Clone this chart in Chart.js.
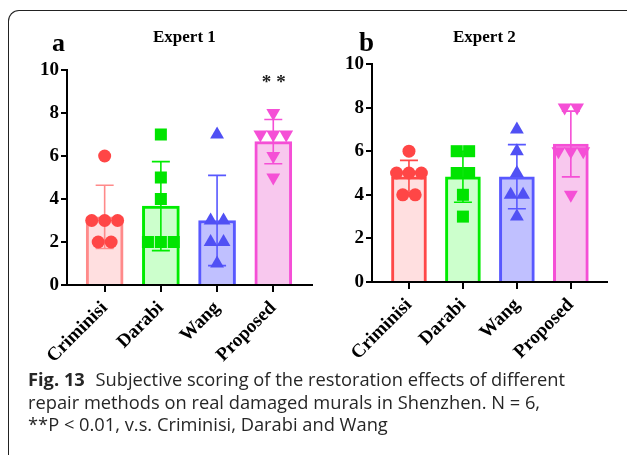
<!DOCTYPE html>
<html>
<head>
<meta charset="utf-8">
<script src="https://cdn.jsdelivr.net/npm/chart.js@4"></script>
<style>
  html, body { margin: 0; padding: 0; background: #fff; }
  body { width: 627px; height: 455px; position: relative; overflow: hidden; }
  .frame { position: absolute; left: 8px; top: 10px; width: 700px; height: 500px;
    border-top: 1.5px solid #222; border-left: 1.5px solid #222; border-top-left-radius: 11px; }
  .panel { position: absolute; top: 0; }
  .serif { position: absolute; font-family: "Liberation Serif", "Times New Roman", serif; font-weight: bold; line-height: 1; color: #000; white-space: nowrap; }
  .caption { position: absolute; left: 28px; top: 368px; width: 610px; font-family: "Open Sans", sans-serif;
    font-size: 18.3px; line-height: 22.5px; color: #262626; font-weight: 400; white-space: nowrap; }
  .caption b { font-weight: 700; margin-right: 6px; }
</style>
</head>
<body>
<div class="frame"></div>
<div class="panel" style="left:0;width:320px;height:370px"><canvas id="chart-a" width="320" height="370"></canvas></div>
<div class="panel" style="left:320px;width:307px;height:370px"><canvas id="chart-b" width="307" height="370"></canvas></div>
<div class="serif" style="left:52px;top:30px;font-size:26px">a</div>
<div class="serif" style="left:359px;top:29px;font-size:27px">b</div>
<div class="serif" style="left:153px;top:28px;font-size:17px">Expert 1</div>
<div class="serif" style="left:453px;top:28px;font-size:17px">Expert 2</div>
<div class="caption"><b>Fig. 13</b> Subjective scoring of the restoration effects of different<br>repair methods on real damaged murals in Shenzhen. N = 6,<br>**P &lt; 0.01, v.s. Criminisi, Darabi and Wang</div>
<script>
const categories = ["Criminisi", "Darabi", "Wang", "Proposed"];
const yTicks = [0, 2, 4, 6, 8, 10];

const expert1Means = [3.17, 3.67, 3.0, 6.67];
const expert1Sd = [1.47, 2.07, 2.1, 1.03];
const expert1Points = [
  [6, 3, 3, 3, 2, 2],
  [7, 5, 4, 2, 2, 2],
  [7, 3, 3, 2, 2, 1],
  [8, 7, 7, 7, 6, 5],
];
const expert1Marks = ["", "", "", "**"];

const expert2Means = [4.83, 4.83, 4.83, 6.33];
const expert2Sd = [0.75, 1.17, 1.47, 1.51];
const expert2Points = [
  [6, 5, 5, 5, 4, 4],
  [6, 6, 5, 5, 4, 3],
  [7, 6, 5, 4, 4, 3],
  [8, 8, 6, 6, 6, 4],
];
const expert2Marks = ["", "", "", ""];

const FILLS = ["#ffdfe0", "#ccffcc", "#c0c0ff", "#f8c8ee"];
const BORDERS_A = ["#ff8a8a", "#00ec00", "#5858ff", "#f54fd6"];
const BORDERS_B = ["#ff4848", "#00ec00", "#5858ff", "#f54fd6"];
const POINT_COLORS = ["#ff4646", "#00e400", "#5050f4", "#f54fd6"];
const POINT_STYLES = ["circle", "rect", "triangle", "triangle"];
const POINT_ROT = [0, 0, 0, 180];
const POINT_R = [6.5, 8.5, 8, 8];
const SERIF = "'Liberation Serif', 'Times New Roman', serif";

// spread equal values side by side, like a scatter dot plot
function spread(values, gap) {
  const total = {};
  values.forEach((v) => (total[v] = (total[v] || 0) + 1));
  const seen = {};
  return values.map((v) => {
    const k = (seen[v] = (seen[v] || 0) + 1) - 1;
    return (k - (total[v] - 1) / 2) * gap;
  });
}

const errorBars = {
  id: "errorBars",
  afterDatasetDraw(chart, args, opts) {
    if (args.index !== 0) return;
    const { ctx } = chart;
    const x = chart.scales.x, y = chart.scales.y;
    ctx.save();
    ctx.lineWidth = 1.6;
    opts.means.forEach((m, i) => {
      const px = x.getPixelForValue(i);
      const top = y.getPixelForValue(m + opts.sd[i]);
      const bot = y.getPixelForValue(m - opts.sd[i]);
      ctx.strokeStyle = opts.colors[i];
      ctx.beginPath();
      ctx.moveTo(px, top); ctx.lineTo(px, bot);
      ctx.moveTo(px - 9, top); ctx.lineTo(px + 9, top);
      ctx.moveTo(px - 9, bot); ctx.lineTo(px + 9, bot);
      ctx.stroke();
    });
    ctx.restore();
  },
  afterDraw(chart, args, opts) {
    const { ctx } = chart;
    const x = chart.scales.x, y = chart.scales.y;
    ctx.save();
    ctx.fillStyle = "#222";
    ctx.font = "bold 19px " + SERIF;
    ctx.textAlign = "center";
    ctx.textBaseline = "middle";
    ctx.letterSpacing = "5px";
    opts.marks.forEach((t, i) => {
      if (!t) return;
      ctx.fillText(t, x.getPixelForValue(i) + 3, y.getPixelForValue(Math.max(...opts.points[i]) + 1.4));
    });
    ctx.restore();
  },
};

function makeChart(id, means, sd, points, marks, borders, box) {
  const datasets = [{
    type: "bar",
    data: means.map((m, i) => ({ x: i, y: m })),
    backgroundColor: FILLS,
    borderColor: borders,
    borderWidth: 3,
    borderSkipped: "start",
    barThickness: box.barW,
    order: 5,
  }];
  points.forEach((vals, i) => {
    const offs = spread(vals, 0.23);
    datasets.push({
      type: "scatter",
      data: vals.map((v, k) => ({ x: i + offs[k], y: v })),
      pointStyle: POINT_STYLES[i],
      rotation: POINT_ROT[i],
      radius: POINT_R[i],
      backgroundColor: POINT_COLORS[i],
      borderColor: POINT_COLORS[i],
      borderWidth: 0,
      order: 1,
    });
  });

  const yFont = { family: SERIF, size: 19, weight: "bold" };
  const xFont = { family: SERIF, size: 19, weight: "bold" };
  return new Chart(document.getElementById(id), {
    data: { datasets },
    plugins: [errorBars],
    options: {
      responsive: false,
      animation: false,
      layout: { padding: { top: box.top, right: box.right, left: 0, bottom: 0 } },
      scales: {
        x: {
          type: "linear",
          min: box.xMin,
          max: box.xMax,
          offset: false,
          afterBuildTicks: (s) => { s.ticks = categories.map((c, i) => ({ value: i })); },
          afterFit: (s) => { s.height = box.xH; },
          ticks: { callback: (v) => categories[v], autoSkip: false, maxRotation: 45, minRotation: 45, color: "#000", font: xFont, padding: 5 },
          grid: { offset: false, drawOnChartArea: false, drawTicks: true, tickLength: 7, color: "#000", lineWidth: 2 },
          border: { color: "#000", width: 2 },
        },
        y: {
          min: 0,
          max: 10,
          afterBuildTicks: (s) => { s.ticks = yTicks.map((v) => ({ value: v })); },
          afterFit: (s) => { s.width = box.yW; },
          ticks: { color: "#000", font: yFont, padding: 2 },
          grid: { drawOnChartArea: false, drawTicks: true, tickLength: 6, color: "#000", lineWidth: 2 },
          border: { color: "#000", width: 2 },
        },
      },
      plugins: {
        legend: { display: false },
        tooltip: { enabled: false },
        errorBars: { means, sd, points, marks, colors: borders },
      },
    },
  });
}

makeChart("chart-a", expert1Means, expert1Sd, expert1Points, expert1Marks, BORDERS_A,
  { top: 70, right: 5, yW: 67, xH: 85, xMin: -0.67, xMax: 3.68, barW: 37 });
makeChart("chart-b", expert2Means, expert2Sd, expert2Points, expert2Marks, BORDERS_B,
  { top: 64, right: 20, yW: 52, xH: 88, xMin: -0.685, xMax: 3.67, barW: 35 });
</script>
</body>
</html>
